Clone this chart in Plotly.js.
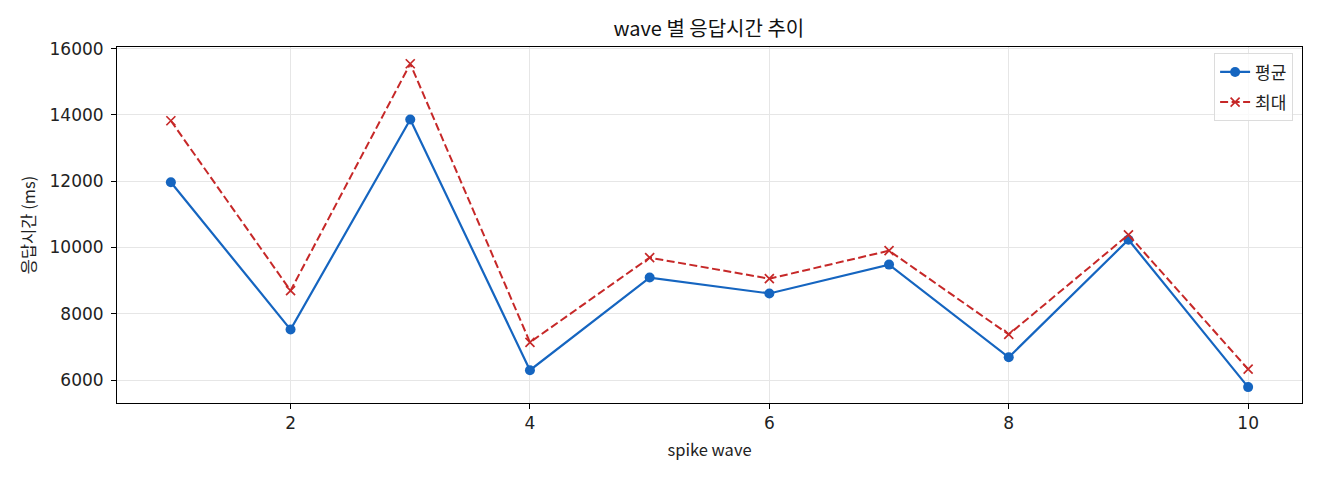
<!DOCTYPE html>
<html>
<head>
<meta charset="utf-8">
<script src="https://cdn.plot.ly/plotly-3.0.1.min.js"></script>
<style>
  html, body { margin: 0; padding: 0; background: #fff; }
  #chart { width: 1320px; height: 480px; }
</style>
</head>
<body>
<div id="chart"></div>
<script>
const waves = [1, 2, 3, 4, 5, 6, 7, 8, 9, 10];
const avgMs = [11970, 7525, 13865, 6300, 9095, 8615, 9485, 6690, 10235, 5790];
const maxMs = [13825, 8700, 15545, 7140, 9695, 9060, 9905, 7380, 10385, 6330];

const FONT = '"Noto Sans CJK KR", "Noto Sans", sans-serif';
const TICK_FONT = '"DejaVu Sans", "Noto Sans CJK KR", sans-serif';

const avgLine = {
    x: waves,
    y: avgMs,
    mode: 'lines+markers',
    name: '평균',
    legendgroup: 'avg',
    line: { color: '#1565c0', width: 2.2 },
    marker: { symbol: 'circle', size: 10, color: '#1565c0' }
};

const maxLine = {
    x: waves,
    y: maxMs,
    mode: 'lines+markers',
    name: '최대',
    legendgroup: 'max',
    line: { color: '#c62828', width: 2, dash: '8px,3.5px' },
    marker: { symbol: 'x-thin', size: 9, color: '#c62828', line: { color: '#c62828', width: 1.7 } }
};

Plotly.newPlot('chart', [avgLine, maxLine], {
    width: 1320,
    height: 480,
    margin: { l: 117, r: 18, t: 47, b: 77 },
    paper_bgcolor: '#fff',
    plot_bgcolor: '#fff',
    font: { family: FONT, size: 16, color: '#222' },
    title: { text: 'wave 별 응답시간 추이', x: 0.537, xanchor: 'center', yref: 'container', y: 0.94, yanchor: 'middle', font: { size: 20, color: '#111' } },
    showlegend: true,
    legend: {
        x: 0.9925, xanchor: 'right', y: 0.982, yanchor: 'top',
        bgcolor: 'rgba(255,255,255,0.8)', bordercolor: '#dcdcdc', borderwidth: 1,
        font: { size: 17 }, traceorder: 'grouped', tracegroupgap: 5
    },
    xaxis: {
        range: [0.55, 10.45],
        tickvals: [2, 4, 6, 8, 10],
        tickfont: { family: TICK_FONT, size: 17 },
        title: { text: 'spike wave', font: { size: 16.5 }, standoff: 12 },
        showline: true, linecolor: '#000', linewidth: 1, mirror: true,
        ticks: 'outside', ticklen: 5, tickcolor: '#000',
        showgrid: true, gridcolor: '#e6e6e6', gridwidth: 1,
        zeroline: false
    },
    yaxis: {
        range: [5310, 16050],
        tickvals: [6000, 8000, 10000, 12000, 14000, 16000],
        tickformat: 'd',
        tickfont: { family: TICK_FONT, size: 17 },
        ticklabelstandoff: 4,
        title: { text: '응답시간 (ms)', font: { size: 16.5 }, standoff: 9 },
        showline: true, linecolor: '#000', linewidth: 1, mirror: true,
        ticks: 'outside', ticklen: 5, tickcolor: '#000',
        showgrid: true, gridcolor: '#e6e6e6', gridwidth: 1,
        zeroline: false
    }
}, { displayModeBar: false, responsive: false });
</script>
</body>
</html>
